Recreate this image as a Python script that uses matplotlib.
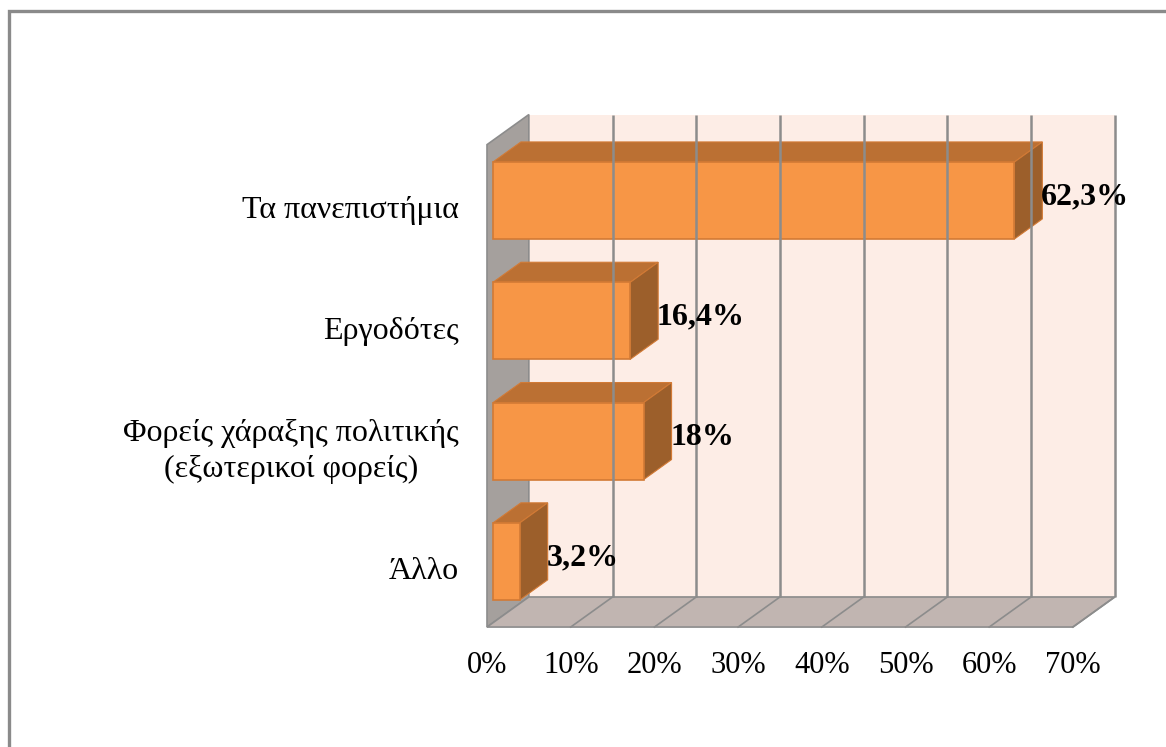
"""Pseudo-3D horizontal bar chart: who benefits (Greek survey), percent of answers."""
import matplotlib
matplotlib.use("Agg")
import matplotlib.pyplot as plt
from matplotlib.patches import Polygon, Rectangle

plt.rcParams["font.family"] = ["Liberation Serif", "DejaVu Serif"]

# data (bottom to top)
categories = ["Άλλο", "Φορείς χάραξης πολιτικής\n(εξωτερικοί φορείς)",
              "Εργοδότες", "Τα πανεπιστήμια"]
values = [3.2, 18.0, 16.4, 62.3]
value_labels = ["3,2%", "18%", "16,4%", "62,3%"]
ticks = [0, 10, 20, 30, 40, 50, 60, 70]
tick_labels = ["0%", "10%", "20%", "30%", "40%", "50%", "60%", "70%"]

# fake 3D geometry, in data units
DX, DY = 5.0, 0.25          # depth offset of the back plane
FLOOR, TOP = -0.51, 3.50    # wall extent (front plane)
Z0, Z1 = 0.14, 0.81         # bar front / back depth
BAR_H = 0.64

FRONT, TOPC, SIDE, EDGE = "#f79646", "#bb7033", "#9c5f2b", "#d27a35"
WALL, LWALL, FLOORC, GRID = "#fdede6", "#a5a09d", "#c1b5b1", "#8c8c8c"


def P(x, y, z):
    return (x + z * DX, y + z * DY)


fig = plt.figure(figsize=(11.66, 7.47), dpi=100)
fig.patches.append(Rectangle((0.0075, -0.02), 1.02, 1.005, transform=fig.transFigure,
                             fill=False, edgecolor="#8a8a8a", linewidth=2.4))

ax = fig.add_axes([400 / 1166, 1 - 700 / 747, 740 / 1166, 610 / 747])
ax.set_xlim((400 - 487) / 8.37, (1140 - 487) / 8.37)
ax.set_ylim((565.7 - 700) / 120.3, (565.7 - 90) / 120.3)
ax.axis("off")

xmax = ticks[-1]
# back wall, side wall, floor
ax.add_patch(Polygon([P(0, FLOOR, 1), P(xmax, FLOOR, 1), P(xmax, TOP, 1), P(0, TOP, 1)],
                     closed=True, facecolor=WALL, edgecolor="none"))
ax.add_patch(Polygon([P(0, FLOOR, 0), P(0, FLOOR, 1), P(0, TOP, 1), P(0, TOP, 0)],
                     closed=True, facecolor=LWALL, edgecolor=GRID, linewidth=1.2))
ax.add_patch(Polygon([P(0, FLOOR, 0), P(xmax, FLOOR, 0), P(xmax, FLOOR, 1), P(0, FLOOR, 1)],
                     closed=True, facecolor=FLOORC, edgecolor=GRID, linewidth=1.2))

for t in ticks[1:]:
    (x1, y1), (x2, y2) = P(t, FLOOR, 1), P(t, TOP, 1)
    ax.plot([x1, x2], [y1, y2], color=GRID, lw=1.8, solid_capstyle="butt")
    (x0, y0) = P(t, FLOOR, 0)
    ax.plot([x0, x1], [y0, y1], color=GRID, lw=1.2)

for t, lab in zip(ticks, tick_labels):
    ax.text(t, FLOOR - 0.32, lab, ha="center", va="center", fontsize=22)

for i, (cat, v, vl) in enumerate(zip(categories, values, value_labels)):
    lo, hi = i - BAR_H / 2, i + BAR_H / 2
    ax.add_patch(Polygon([P(0, hi, Z0), P(v, hi, Z0), P(v, hi, Z1), P(0, hi, Z1)],
                         closed=True, facecolor=TOPC, edgecolor=EDGE, linewidth=0.8))
    ax.add_patch(Polygon([P(v, lo, Z0), P(v, lo, Z1), P(v, hi, Z1), P(v, hi, Z0)],
                         closed=True, facecolor=SIDE, edgecolor=EDGE, linewidth=0.8))
    ax.add_patch(Polygon([P(0, lo, Z0), P(v, lo, Z0), P(v, hi, Z0), P(0, hi, Z0)],
                         closed=True, facecolor=FRONT, edgecolor=EDGE, linewidth=1.2))
    lx, ly = P(v, i, Z0)
    ax.text(lx + 3.2, ly + 0.03, vl, ha="left", va="center", fontsize=23, fontweight="bold")
    ax.text(-3.4, i - 0.05, cat, ha="right", va="center", multialignment="center", fontsize=23,
            linespacing=1.3)

fig.savefig("out.png", dpi=100)
